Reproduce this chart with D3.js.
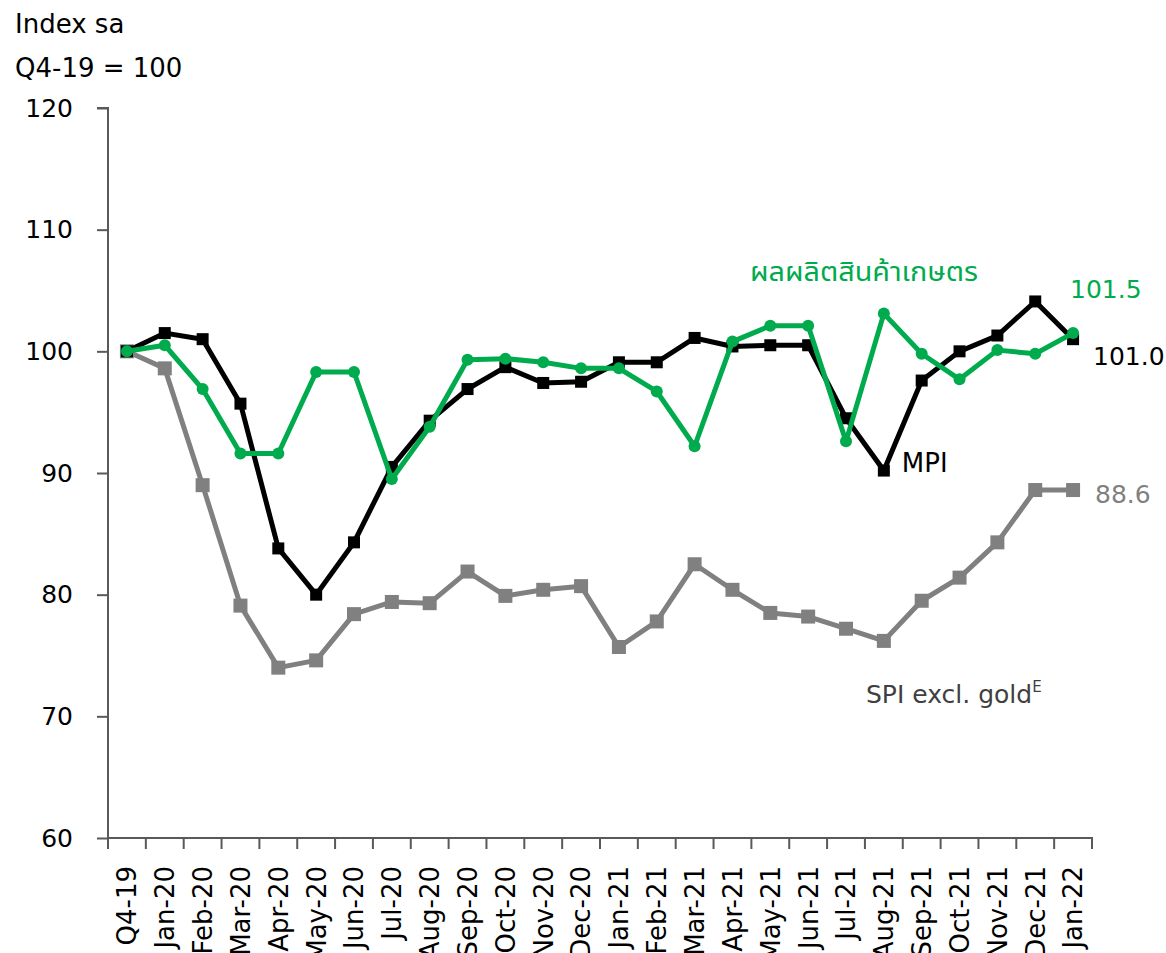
<!DOCTYPE html>
<html>
<head>
<meta charset="utf-8">
<script src="https://cdn.jsdelivr.net/npm/d3@7"></script>
<style>
  html, body { margin: 0; padding: 0; background: #fff; }
  svg { display: block; }
  svg text { font-family: "DejaVu Sans", "Noto Sans Thai", "Loma", "Garuda", "Noto Sans", sans-serif; }
</style>
</head>
<body>
<svg id="chart" width="1166" height="953"></svg>
<script>
const categories = ["Q4-19","Jan-20","Feb-20","Mar-20","Apr-20","May-20","Jun-20","Jul-20","Aug-20","Sep-20","Oct-20","Nov-20","Dec-20",
  "Jan-21","Feb-21","Mar-21","Apr-21","May-21","Jun-21","Jul-21","Aug-21","Sep-21","Oct-21","Nov-21","Dec-21","Jan-22"];
const mpi = [100.0,101.5,101.0,95.7,83.8,80.0,84.3,90.5,94.3,96.9,98.7,97.4,97.5,99.1,99.1,101.1,100.4,100.5,100.5,94.5,90.2,97.6,100.0,101.3,104.1,101.0];
const agri = [100.0,100.5,96.9,91.6,91.6,98.3,98.3,89.5,93.8,99.3,99.4,99.1,98.6,98.6,96.7,92.2,100.8,102.1,102.1,92.6,103.1,99.8,97.7,100.1,99.8,101.5];
const spi = [100.0,98.6,89.0,79.1,74.0,74.6,78.4,79.4,79.3,81.9,79.9,80.4,80.7,75.7,77.8,82.5,80.4,78.5,78.2,77.2,76.2,79.5,81.4,84.3,88.6,88.6];
const yTicks = [60,70,80,90,100,110,120];

(function () {
const svg = d3.select("#chart");
const mLeft = 108, mRight = 1092, mTop = 108, mBottom = 838;

const x = d3.scaleBand().domain(categories).range([mLeft, mRight]).padding(0);
const y = d3.scaleLinear().domain([60,120]).range([mBottom, mTop]);
const cx = d => x(d) + x.bandwidth()/2;

// Axes
const yAxis = svg.append("g").attr("transform", `translate(${mLeft},0)`)
  .call(d3.axisLeft(y).tickValues(yTicks).tickSize(11).tickPadding(24).tickFormat(d3.format("d")));
yAxis.select(".domain").attr("stroke", "#595959").attr("stroke-width", 2).attr("d", `M-11,${mTop}H0V${mBottom}`);
yAxis.selectAll(".tick line").attr("stroke", "#595959").attr("stroke-width", 2);
yAxis.selectAll(".tick text").attr("fill", "#000").style("font-size", "25px");

const xAxis = svg.append("g").attr("transform", `translate(0,${mBottom})`)
  .call(d3.axisBottom(x).tickSize(0).tickFormat(d => d));
xAxis.select(".domain").attr("stroke", "#595959").attr("stroke-width", 2).attr("d", `M${mLeft},0H${mRight}V11`);
xAxis.selectAll(".tick text")
  .attr("fill", "#000")
  .style("font-size", "26px")
  .attr("text-anchor", "end")
  .attr("transform", "rotate(-90)")
  .attr("x", -28).attr("y", 0).attr("dy", "0.36em");
// boundary tick marks
svg.append("g").selectAll("line").data(categories).join("line")
  .attr("x1", d => x(d)).attr("x2", d => x(d))
  .attr("y1", mBottom).attr("y2", mBottom + 11)
  .attr("stroke", "#595959").attr("stroke-width", 2);

// Title
svg.append("text").attr("x", 15).attr("y", 33).style("font-size", "26px").attr("fill", "#000").text("Index sa");
svg.append("text").attr("x", 15).attr("y", 77).style("font-size", "26px").attr("fill", "#000").text("Q4-19 = 100");

const line = d3.line().x((d,i) => cx(categories[i])).y(d => y(d));

// SPI gray
svg.append("path").datum(spi).attr("d", line).attr("fill", "none")
  .attr("stroke", "#808080").attr("stroke-width", 5).attr("stroke-linejoin", "round");
svg.append("g").selectAll("rect").data(spi).join("rect")
  .attr("x", (d,i) => cx(categories[i]) - 7).attr("y", d => y(d) - 7)
  .attr("width", 14).attr("height", 14).attr("fill", "#808080");

// MPI black
svg.append("path").datum(mpi).attr("d", line).attr("fill", "none")
  .attr("stroke", "#000").attr("stroke-width", 5).attr("stroke-linejoin", "miter");
svg.append("g").selectAll("rect").data(mpi).join("rect")
  .attr("x", (d,i) => cx(categories[i]) - 6).attr("y", d => y(d) - 6)
  .attr("width", 12).attr("height", 12).attr("fill", "#000");

// Agri green
svg.append("path").datum(agri).attr("d", line).attr("fill", "none")
  .attr("stroke", "#00AB4E").attr("stroke-width", 5).attr("stroke-linejoin", "round");
svg.append("g").selectAll("circle").data(agri).join("circle")
  .attr("cx", (d,i) => cx(categories[i])).attr("cy", d => y(d))
  .attr("r", 6).attr("fill", "#00AB4E");

// Labels
const lastX = cx(categories[categories.length-1]);
svg.append("text").attr("x", 750).attr("y", 281).style("font-size", "26px").attr("fill", "#00AB4E")
  .attr("textLength", 228).attr("lengthAdjust", "spacingAndGlyphs").text("ผลผลิตสินค้าเกษตร");
svg.append("text").attr("x", lastX - 3).attr("y", y(agri[agri.length-1]) - 35).style("font-size", "25px").attr("fill", "#00AB4E").text(d3.format(".1f")(agri[agri.length-1]));
svg.append("text").attr("x", lastX + 20).attr("y", y(mpi[mpi.length-1]) + 26).style("font-size", "25px").attr("fill", "#000").text(d3.format(".1f")(mpi[mpi.length-1]));
svg.append("text").attr("x", cx("Aug-21") + 18).attr("y", 472).style("font-size", "26px").attr("fill", "#000").text("MPI");
svg.append("text").attr("x", lastX + 22).attr("y", y(spi[spi.length-1]) + 13).style("font-size", "25px").attr("fill", "#808080").text(d3.format(".1f")(spi[spi.length-1]));
const spiLab = svg.append("text").attr("x", 866).attr("y", 703).style("font-size", "25px").attr("fill", "#404040");
spiLab.append("tspan").text("SPI excl. gold");
spiLab.append("tspan").style("font-size", "15px").attr("dy", -11).text("E");
})();
</script>
</body>
</html>
